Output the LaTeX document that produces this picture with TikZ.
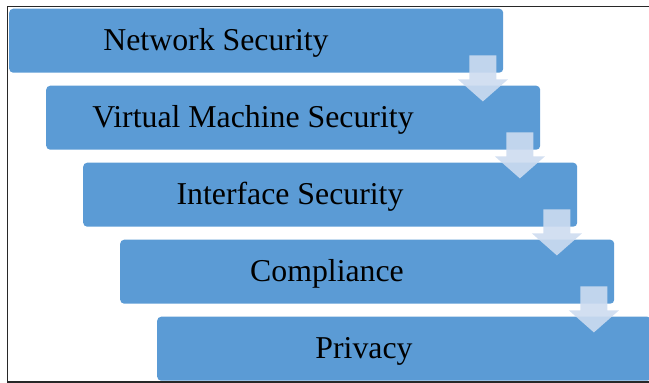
\documentclass[tikz,border=0pt]{standalone}
\usepackage{fontspec}
\setmainfont{Liberation Serif}
\usetikzlibrary{calc}
\definecolor{boxblue}{RGB}{91,155,213}
\definecolor{arrowfill}{RGB}{205,220,240}
\definecolor{framecol}{RGB}{40,40,40}
\begin{document}
\begin{tikzpicture}[x=1pt,y=-1pt,
  stepbox/.style={fill=boxblue, draw=none, rounded corners=4pt, minimum width=494pt, minimum height=64pt, inner sep=0pt, anchor=north west},
  lbl/.style={font=\fontsize{31.8}{38}\selectfont, anchor=base, inner sep=0pt},
  downarrow/.style={fill=arrowfill, fill opacity=0.9, draw=none}]
\clip (0,0) rectangle (649,383);
\draw[line width=1.3pt, framecol] (7.5,6.5) rectangle (700,382);
\node[stepbox] (b1) at (9,8.5) {};
\node[stepbox] (b2) at (46,85.5) {};
\node[stepbox] (b3) at (83,162.5) {};
\node[stepbox] (b4) at (120,239.5) {};
\node[stepbox] (b5) at (157,316.5) {};
\node[lbl] (t1) at ($(b1.north west)+(207,41.5)$) {Network Security};
\node[lbl] (t2) at ($(b2.north west)+(207,41.5)$) {Virtual Machine Security};
\node[lbl] (t3) at ($(b3.north west)+(207,41.5)$) {Interface Security};
\node[lbl] (t4) at ($(b4.north west)+(207,41.5)$) {Compliance};
\node[lbl] (t5) at ($(b5.north west)+(207,41.5)$) {Privacy};
\foreach \a in {b1,b2,b3,b4}{
  \fill[downarrow] ($(\a.south east)+(-34,-17.5)$) -- ($(\a.south east)+(-7,-17.5)$)
    -- ($(\a.south east)+(-7,6.5)$) -- ($(\a.south east)+(4.5,6.5)$)
    -- ($(\a.south east)+(-20.5,28.5)$) -- ($(\a.south east)+(-45.5,6.5)$)
    -- ($(\a.south east)+(-34,6.5)$) -- cycle;
}
\end{tikzpicture}
\end{document}
